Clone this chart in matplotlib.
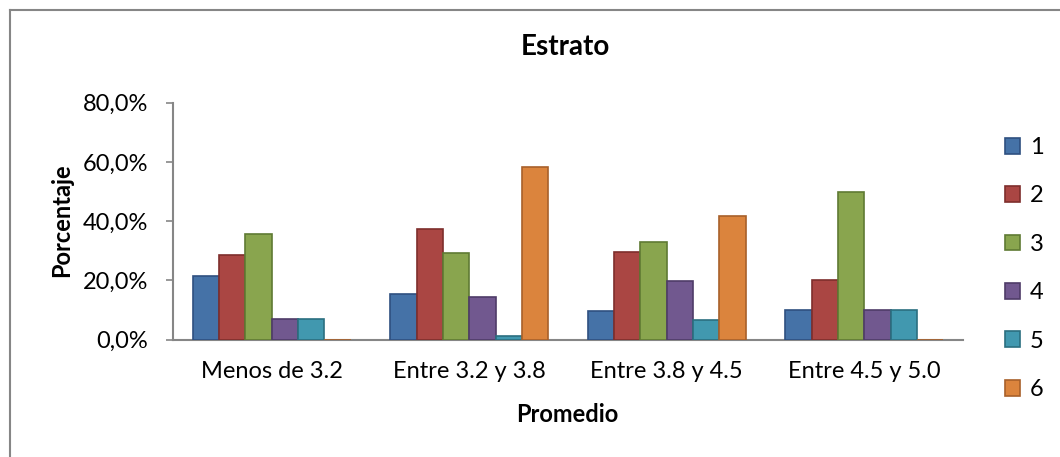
import numpy as np
import matplotlib
matplotlib.use("Agg")
import matplotlib.pyplot as plt
from matplotlib.lines import Line2D
from matplotlib.ticker import FuncFormatter

plt.rcParams['font.family'] = ['Lato', 'DejaVu Sans']

# data (fractions)
categorias = ["Menos de 3.2", "Entre 3.2 y 3.8", "Entre 3.8 y 4.5", "Entre 4.5 y 5.0"]
estratos = ["1", "2", "3", "4", "5", "6"]
e1 = [0.214, 0.154, 0.098, 0.100]
e2 = [0.286, 0.375, 0.296, 0.200]
e3 = [0.357, 0.294, 0.331, 0.500]
e4 = [0.071, 0.144, 0.198, 0.100]
e5 = [0.071, 0.013, 0.068, 0.100]
e6 = [0.0, 0.584, 0.419, 0.0]
series = [e1, e2, e3, e4, e5, e6]

colores = ["#4572A7", "#AA4643", "#89A54E", "#71588F", "#4198AF", "#DB843D"]
bordes = ["#2F5080", "#7E2E2C", "#5F7A33", "#4F3C68", "#2B6F80", "#A8602A"]

fig = plt.figure(figsize=(10.6, 4.57), dpi=100)
ax = fig.add_axes([173/1060, 1 - 339.7/457, (963 - 173)/1060, (339.7 - 102.7)/457])

x = np.arange(len(categorias))
w = 0.133
handles = []
for j, vals in enumerate(series):
    b = ax.bar(x + (j - 2.5) * w, vals, width=w, color=colores[j],
               edgecolor=bordes[j], linewidth=1.2, zorder=3)
    handles.append(b)

ax.set_xlim(-0.5, 3.5)
ax.set_ylim(0, 0.8)
ax.set_yticks([0, 0.2, 0.4, 0.6, 0.8])
ax.yaxis.set_major_formatter(FuncFormatter(lambda v, p: f"{v*100:.1f}%".replace(".", ",")))
ax.set_xticks(x)
ax.set_xticklabels(categorias)

for s in ["top", "right"]:
    ax.spines[s].set_visible(False)
for s in ["left", "bottom"]:
    ax.spines[s].set_color("#868686")
    ax.spines[s].set_linewidth(1.5)
ax.tick_params(axis="y", length=5, width=1.2, color="#868686", pad=13, labelsize=17)
ax.tick_params(axis="x", length=0, pad=15, labelsize=17)

fig.text(565/1060, 1 - 47/457, "Estrato", ha="center", va="center", fontsize=20, fontweight="bold")
fig.text(62/1060, 1 - 220/457, "Porcentaje", ha="center", va="center", rotation=90,
         fontsize=17, fontweight="bold")
fig.text(567/1060, 1 - 414/457, "Promedio", ha="center", va="center", fontsize=17, fontweight="bold")

leg = fig.legend(handles, estratos, loc="upper left", bbox_to_anchor=(1005/1060, 1 - 137/457),
                 frameon=False, fontsize=17, handlelength=0.65, handleheight=0.65,
                 handletextpad=0.4, labelspacing=1.16, borderaxespad=0, borderpad=0)

# outer chart border (top and left visible)
fig.add_artist(Line2D([10/1060, 10/1060], [0, 1 - 10/457], transform=fig.transFigure,
                      color="#868686", linewidth=1.5))
fig.add_artist(Line2D([10/1060, 1], [1 - 10/457, 1 - 10/457], transform=fig.transFigure,
                      color="#868686", linewidth=1.5))

fig.savefig("out.png", dpi=100)
